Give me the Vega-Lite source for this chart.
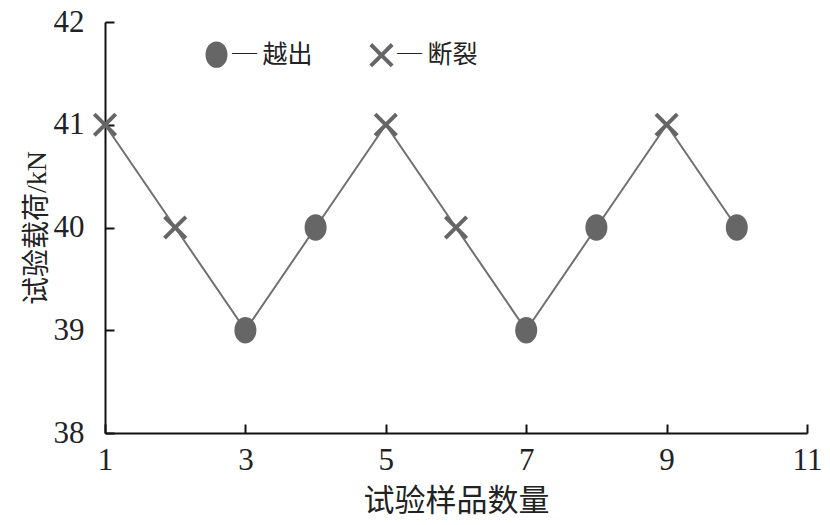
{
  "$schema": "https://vega.github.io/schema/vega-lite/v6.json",
  "autosize": {"type": "none"},
  "padding": {"left": 105, "top": 22, "right": 23, "bottom": 92},
  "width": 702,
  "height": 411,
  "background": "white",
  "config": {
    "view": {"stroke": null},
    "axis": {
      "domainColor": "#111",
      "domainWidth": 2,
      "tickColor": "#111",
      "tickWidth": 2,
      "tickSize": -9,
      "grid": false,
      "labelFlush": false,
      "labelFont": "Liberation Serif",
      "labelFontSize": 31,
      "labelColor": "#222",
      "titleFont": "Liberation Serif, Noto Sans CJK SC",
      "titleFontWeight": "normal",
      "titleColor": "#222"
    }
  },
  "data": {
    "values": [
      {"sample": 1, "load": 41, "result": "断裂"},
      {"sample": 2, "load": 40, "result": "断裂"},
      {"sample": 3, "load": 39, "result": "越出"},
      {"sample": 4, "load": 40, "result": "越出"},
      {"sample": 5, "load": 41, "result": "断裂"},
      {"sample": 6, "load": 40, "result": "断裂"},
      {"sample": 7, "load": 39, "result": "越出"},
      {"sample": 8, "load": 40, "result": "越出"},
      {"sample": 9, "load": 41, "result": "断裂"},
      {"sample": 10, "load": 40, "result": "越出"}
    ]
  },
  "encoding": {
    "x": {
      "field": "sample",
      "type": "quantitative",
      "scale": {"domain": [1, 11], "nice": false, "zero": false},
      "axis": {"values": [1, 3, 5, 7, 9, 11], "title": "试验样品数量", "titleFontSize": 31, "labelPadding": 21, "titlePadding": 11}
    },
    "y": {
      "field": "load",
      "type": "quantitative",
      "scale": {"domain": [38, 42], "nice": false, "zero": false},
      "axis": {"values": [38, 39, 40, 41, 42], "title": "试验载荷/kN", "titleFontSize": 28, "labelPadding": 30, "titlePadding": 2}
    }
  },
  "layer": [
    {
      "mark": {"type": "line", "color": "#707070", "strokeWidth": 2}
    },
    {
      "mark": {"type": "point", "filled": true, "color": "#666", "opacity": 1, "size": 484},
      "encoding": {
        "shape": {
          "field": "result",
          "type": "nominal",
          "sort": ["越出", "断裂"],
          "scale": {
            "domain": ["越出", "断裂"],
            "range": [
              "M0,-1.2A1,1.2 0 1,1 0,1.2A1,1.2 0 1,1 0,-1.2Z",
              "M0.846,-1.1L1.1,-0.846L0.255,0L1.1,0.846L0.846,1.1L0,0.255L-0.846,1.1L-1.1,0.846L-0.255,0L-1.1,-0.846L-0.846,-1.1L0,-0.255Z"
            ]
          },
          "legend": {
            "title": null,
            "orient": "none",
            "legendX": 99,
            "legendY": 20,
            "direction": "horizontal",
            "symbolSize": 484,
            "symbolFillColor": "#666",
            "symbolOpacity": 1,
            "labelExpr": "'─ ' + datum.label",
            "labelFont": "Noto Sans CJK SC",
            "labelFontSize": 25,
            "labelColor": "#222",
            "labelOffset": 3,
            "columnPadding": 53
          }
        }
      }
    }
  ]
}
